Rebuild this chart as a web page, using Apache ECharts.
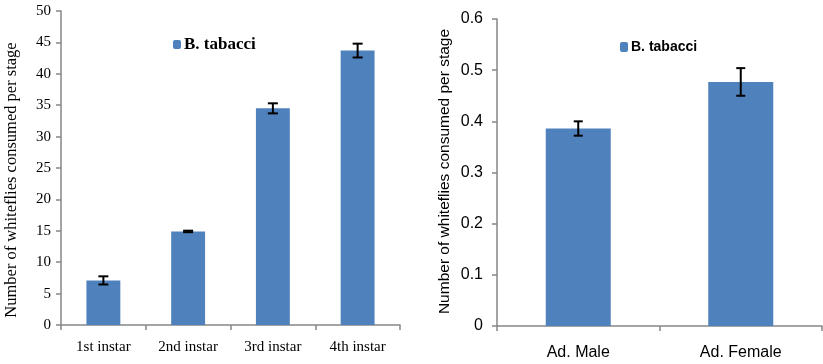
<!DOCTYPE html>
<html><head><meta charset="utf-8">
<script src="https://cdn.jsdelivr.net/npm/echarts@6/dist/echarts.min.js"></script>
<style>html,body{margin:0;padding:0;background:#fff}#c{width:823px;height:364px}</style>
</head><body><div id="c"></div>
<script>
var stages = ['1st instar', '2nd instar', '3rd instar', '4th instar'];
var stageMeans = [7.1, 14.9, 34.5, 43.7];
var stageErr = [0.65, 0.12, 0.8, 1.1];
var adults = ['Ad. Male', 'Ad. Female'];
var adultMeans = [0.386, 0.477];
var adultErr = [0.014, 0.027];
var yTitle = 'Number of whiteflies consumed per stage';
var seriesName = 'B. tabacci';

var BAR = '#4F81BD', AX = '#868686';
function errData(m, e) { return m.map(function (v, i) { return [i, v - e[i], v + e[i]]; }); }
function errRender(cap) {
  return function (params, api) {
    var lo = api.coord([api.value(0), api.value(1)]);
    var hi = api.coord([api.value(0), api.value(2)]);
    var x = lo[0];
    var st = { stroke: '#000', lineWidth: 2 };
    return { type: 'group', children: [
      { type: 'line', shape: { x1: x, y1: lo[1], x2: x, y2: hi[1] }, style: st },
      { type: 'line', shape: { x1: x - cap, y1: lo[1], x2: x + cap, y2: lo[1] }, style: st },
      { type: 'line', shape: { x1: x - cap, y1: hi[1], x2: x + cap, y2: hi[1] }, style: st }
    ]};
  };
}
var serif = 'Liberation Serif', sans = 'Liberation Sans';
var chart = echarts.init(document.getElementById('c'), null, { renderer: 'canvas' });
chart.setOption({
  animation: false,
  grid: [
    { left: 61, right: 423, top: 11, bottom: 39 },
    { left: 497, right: 1, top: 19, bottom: 38 }
  ],
  legend: [
    { left: 168, top: 31, itemWidth: 8, itemHeight: 9, itemGap: 4, data: [seriesName],
      textStyle: { fontFamily: serif, fontWeight: 'bold', fontSize: 17, color: '#000', padding: [0, 0, 0, -2] } },
    { left: 615, top: 35, itemWidth: 8, itemHeight: 10, itemGap: 4, data: [seriesName],
      textStyle: { fontFamily: sans, fontWeight: 'bold', fontSize: 14, color: '#000', padding: [0, 0, 0, -2] } }
  ],
  xAxis: [
    { type: 'category', gridIndex: 0, data: stages,
      axisLine: { lineStyle: { color: AX, width: 1.5 } },
      axisTick: { show: true, length: 5, lineStyle: { color: AX, width: 1.5 } },
      axisLabel: { fontFamily: serif, fontSize: 15, color: '#000', margin: 15 } },
    { type: 'category', gridIndex: 1, data: adults,
      axisLine: { lineStyle: { color: AX, width: 1.5 } },
      axisTick: { show: true, length: 5, lineStyle: { color: AX, width: 1.5 } },
      axisLabel: { fontFamily: sans, fontSize: 16, color: '#000', margin: 19 } }
  ],
  yAxis: [
    { type: 'value', gridIndex: 0, min: 0, max: 50, interval: 5,
      name: yTitle, nameLocation: 'middle', nameGap: 41, nameRotate: 90,
      nameTextStyle: { fontFamily: serif, fontSize: 16.5, color: '#000', padding: [0, 0, 0, -24] },
      axisLine: { show: true, lineStyle: { color: AX, width: 1.5 } },
      axisTick: { show: true, length: 5, lineStyle: { color: AX, width: 1.5 } },
      splitLine: { show: false },
      axisLabel: { fontFamily: serif, fontSize: 15, color: '#000', margin: 10 } },
    { type: 'value', gridIndex: 1, min: 0, max: 0.6, interval: 0.1,
      name: yTitle, nameLocation: 'middle', nameGap: 44, nameRotate: 90,
      nameTextStyle: { fontFamily: sans, fontSize: 15.5, color: '#000', padding: [0, 0, 0, 2] },
      axisLine: { show: true, lineStyle: { color: AX, width: 1.5 } },
      axisTick: { show: true, length: 5, lineStyle: { color: AX, width: 1.5 } },
      splitLine: { show: false },
      axisLabel: { fontFamily: sans, fontSize: 16, color: '#000', margin: 14,
        formatter: function (v) { return v === 0 ? '0' : v.toFixed(1); } } }
  ],
  series: [
    { name: seriesName, type: 'bar', xAxisIndex: 0, yAxisIndex: 0, data: stageMeans,
      barCategoryGap: '60%', itemStyle: { color: BAR } },
    { type: 'custom', xAxisIndex: 0, yAxisIndex: 0, data: errData(stageMeans, stageErr),
      renderItem: errRender(5), z: 10 },
    { name: seriesName, type: 'bar', xAxisIndex: 1, yAxisIndex: 1, data: adultMeans,
      barCategoryGap: '60%', itemStyle: { color: BAR } },
    { type: 'custom', xAxisIndex: 1, yAxisIndex: 1, data: errData(adultMeans, adultErr),
      renderItem: errRender(4.5), z: 10 }
  ]
});
</script></body></html>
